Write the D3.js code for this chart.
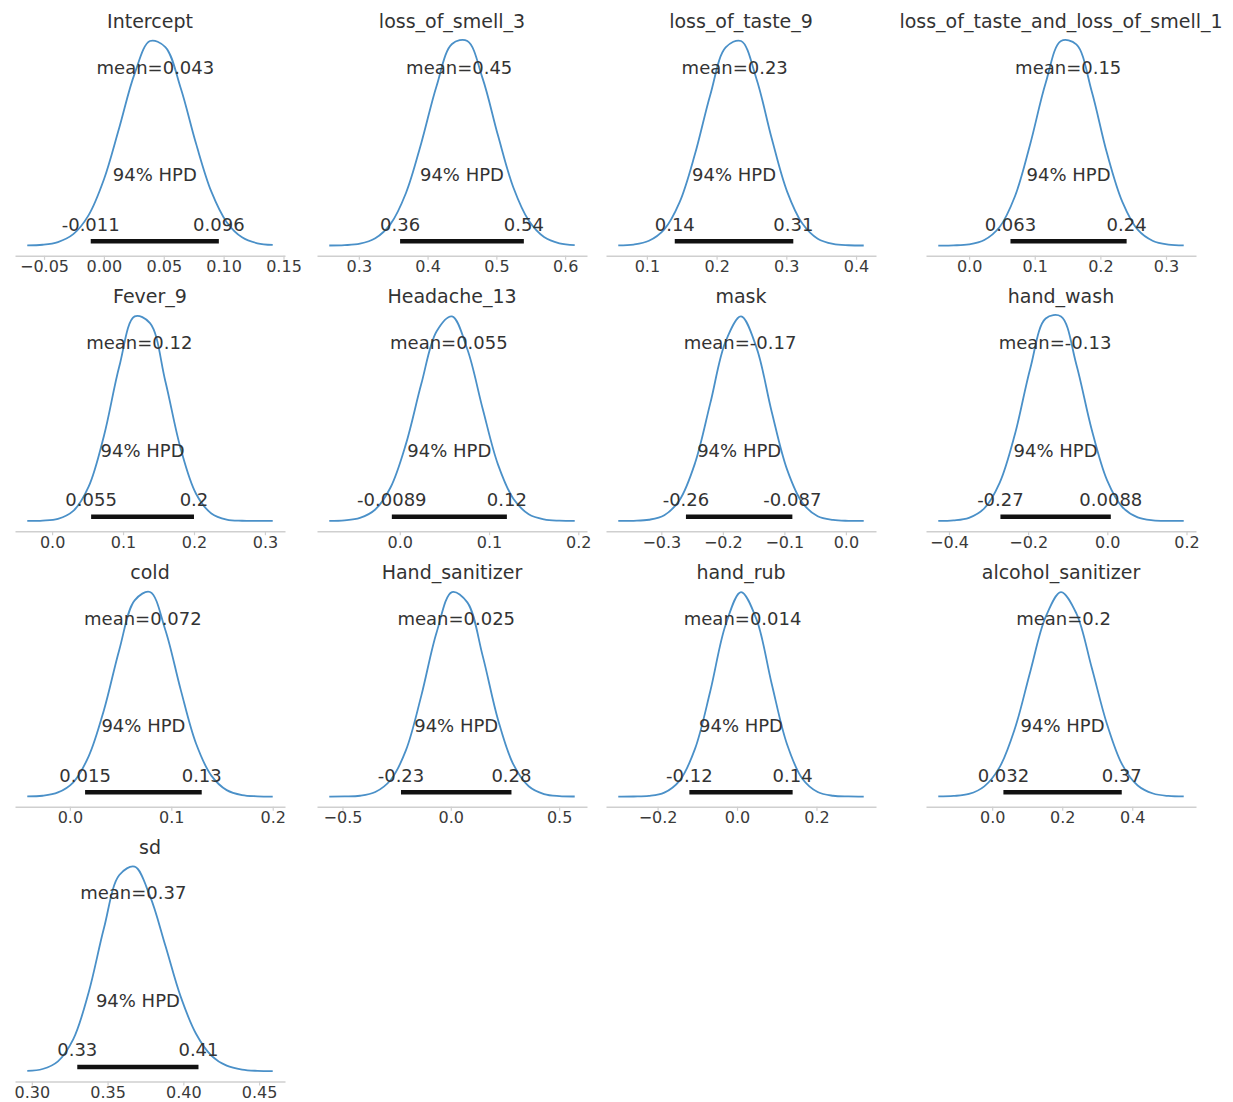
<!DOCTYPE html>
<html>
<head>
<meta charset="utf-8">
<script src="https://cdn.jsdelivr.net/npm/d3@7"></script>
<style>
  body { margin: 0; background: #fff; }
  svg { display: block; }
  text { font-family: "DejaVu Sans", "Liberation Sans", sans-serif; }
</style>
</head>
<body>
<svg id="chart" width="1233" height="1102"></svg>
<script>
// Posterior summaries per parameter
const names = ["Intercept", "loss_of_smell_3", "loss_of_taste_9", "loss_of_taste_and_loss_of_smell_1",
  "Fever_9", "Headache_13", "mask", "hand_wash",
  "cold", "Hand_sanitizer", "hand_rub", "alcohol_sanitizer",
  "sd"];
const means   = [0.043, 0.446, 0.226, 0.151, 0.123, 0.055, -0.172, -0.132, 0.072, 0.025, 0.014, 0.204, 0.367];
const hpdLow  = [-0.011, 0.36, 0.14, 0.063, 0.055, -0.0089, -0.26, -0.27, 0.015, -0.23, -0.12, 0.032, 0.33];
const hpdHigh = [0.096, 0.54, 0.31, 0.24, 0.2, 0.12, -0.087, 0.0088, 0.13, 0.28, 0.14, 0.37, 0.41];

// Sample range covered by each kernel density estimate
const kdeLow  = [-0.064, 0.257, 0.059, -0.047, -0.035, -0.079, -0.370, -0.427, -0.042, -0.561, -0.299, -0.154, 0.297];
const kdeHigh = [0.141, 0.614, 0.411, 0.327, 0.311, 0.196, 0.029, 0.193, 0.200, 0.572, 0.319, 0.547, 0.459];

// Relative density at 17 evenly spaced points across each range
const densities = [
  [0.001, 0.004, 0.017, 0.055, 0.147, 0.320, 0.570, 0.830, 0.987, 0.958, 0.760, 0.492, 0.260, 0.113, 0.040, 0.011, 0.003],
  [0.0003, 0.002, 0.009, 0.035, 0.104, 0.252, 0.492, 0.766, 0.966, 0.980, 0.800, 0.527, 0.278, 0.120, 0.041, 0.011, 0.0025],
  [0.001, 0.005, 0.023, 0.078, 0.209, 0.440, 0.726, 0.953, 0.984, 0.804, 0.516, 0.261, 0.106, 0.033, 0.008, 0.0016, 0.0003],
  [0.0002, 0.001, 0.006, 0.027, 0.089, 0.236, 0.487, 0.777, 0.978, 0.962, 0.738, 0.441, 0.209, 0.076, 0.022, 0.005, 0.001],
  [0.0002, 0.0016, 0.010, 0.048, 0.164, 0.407, 0.738, 0.976, 0.944, 0.667, 0.345, 0.130, 0.036, 0.007, 0.001, 0.0001, 0.0],
  [0.0005, 0.003, 0.015, 0.056, 0.164, 0.375, 0.667, 0.923, 0.995, 0.835, 0.546, 0.274, 0.108, 0.033, 0.008, 0.0015, 0.0002],
  [0.0001, 0.0009, 0.006, 0.028, 0.103, 0.282, 0.576, 0.878, 1.0, 0.850, 0.534, 0.252, 0.089, 0.023, 0.005, 0.0007, 0.0001],
  [0.0004, 0.003, 0.015, 0.060, 0.181, 0.413, 0.726, 0.962, 0.972, 0.744, 0.435, 0.194, 0.066, 0.017, 0.003, 0.0005, 0.0001],
  [0.0008, 0.004, 0.020, 0.069, 0.194, 0.418, 0.709, 0.947, 0.987, 0.804, 0.516, 0.256, 0.101, 0.031, 0.007, 0.0014, 0.0002],
  [0.0001, 0.0007, 0.004, 0.022, 0.080, 0.224, 0.487, 0.793, 0.987, 0.937, 0.679, 0.371, 0.155, 0.050, 0.012, 0.002, 0.0003],
  [0.0, 0.0004, 0.003, 0.019, 0.078, 0.233, 0.516, 0.840, 1.0, 0.869, 0.552, 0.256, 0.087, 0.022, 0.004, 0.0005, 0.0001],
  [0.0005, 0.003, 0.013, 0.050, 0.144, 0.334, 0.612, 0.878, 1.0, 0.896, 0.631, 0.354, 0.155, 0.054, 0.015, 0.003, 0.0005],
  [0.002, 0.011, 0.048, 0.155, 0.380, 0.691, 0.947, 0.987, 0.845, 0.607, 0.360, 0.181, 0.076, 0.027, 0.008, 0.002, 0.0004]
];

// Axis tick values per panel
const tickValues = [
  [-0.05, 0.0, 0.05, 0.10, 0.15],
  [0.3, 0.4, 0.5, 0.6],
  [0.1, 0.2, 0.3, 0.4],
  [0.0, 0.1, 0.2, 0.3],
  [0.0, 0.1, 0.2, 0.3],
  [0.0, 0.1, 0.2],
  [-0.3, -0.2, -0.1, 0.0],
  [-0.4, -0.2, 0.0, 0.2],
  [0.0, 0.1, 0.2],
  [-0.5, 0.0, 0.5],
  [-0.2, 0.0, 0.2],
  [0.0, 0.2, 0.4],
  [0.30, 0.35, 0.40, 0.45]
];

const intervalLabel = "94% HPD";

// Grid layout
const colX = [15, 317, 606, 926];
const rowBase = [255.8, 531.2, 806.8, 1081.5];
const panelW = 270, panelH = 225;

// two significant digits, plain hyphen for negatives
const sig2 = v => String(parseFloat(v.toPrecision(2)));

const svg = d3.select("#chart");

names.forEach((name, i) => {
  const col = i % 4, row = Math.floor(i / 4);
  const g = svg.append("g")
    .attr("transform", `translate(${colX[col]},${rowBase[row] - panelH})`);

  const lo = kdeLow[i], hi = kdeHigh[i];
  const pad = 0.05 * (hi - lo);
  const x = d3.scaleLinear().domain([lo - pad, hi + pad]).range([0, panelW]);

  const dens = densities[i];
  const dmax = d3.max(dens);
  const y = d3.scaleLinear().domain([-0.05 * dmax, 1.05 * dmax]).range([panelH, 0]);
  const plotHeight = 1.05 * dmax;

  const pts = dens.map((d, j) => [lo + j * (hi - lo) / (dens.length - 1), d]);

  // bottom axis
  const ticks = tickValues[i];
  const step = ticks[1] - ticks[0];
  const decimals = Math.max(0, -Math.floor(Math.log10(step) + 1e-9));
  const fmt = v => {
    const s = Math.abs(v).toFixed(decimals);
    return (v < -1e-12 ? "\u2212" : "") + s;
  };
  const axis = d3.axisBottom(x).tickValues(ticks).tickFormat(fmt)
    .tickSizeOuter(0).tickSizeInner(4).tickPadding(1);
  const ax = g.append("g").attr("transform", `translate(0,${panelH})`).call(axis);
  ax.select(".domain").attr("stroke", "#cfcfcf").attr("stroke-width", 1.5);
  ax.selectAll(".tick line").attr("stroke", "#cfcfcf").attr("stroke-width", 1.2);
  ax.selectAll(".tick text").attr("fill", "#3a3a3a").attr("font-size", 16)
    .attr("font-family", "DejaVu Sans, sans-serif");

  // density curve
  g.append("path")
    .datum(pts)
    .attr("fill", "none")
    .attr("stroke", "#4a90c8")
    .attr("stroke-width", 1.8)
    .attr("d", d3.line().x(d => x(d[0])).y(d => y(d[1])).curve(d3.curveCatmullRom.alpha(0.5)));

  // credible interval bar
  g.append("line")
    .attr("x1", x(hpdLow[i])).attr("x2", x(hpdHigh[i]))
    .attr("y1", y(0.02 * plotHeight)).attr("y2", y(0.02 * plotHeight))
    .attr("stroke", "#111").attr("stroke-width", 4.5).attr("stroke-linecap", "butt");

  const txt = (xv, yv, s) => g.append("text")
    .attr("x", x(xv)).attr("y", y(yv))
    .attr("text-anchor", "middle").attr("font-size", 18).attr("fill", "#333")
    .text(s);

  txt(hpdLow[i], 0.07 * plotHeight, sig2(hpdLow[i]));
  txt(hpdHigh[i], 0.07 * plotHeight, sig2(hpdHigh[i]));
  txt((hpdLow[i] + hpdHigh[i]) / 2, 0.3 * plotHeight, intervalLabel);
  txt(means[i], 0.8 * plotHeight, "mean=" + sig2(means[i]));

  // panel title
  g.append("text")
    .attr("x", panelW / 2).attr("y", panelH - 228)
    .attr("text-anchor", "middle").attr("font-size", 19).attr("fill", "#333")
    .text(name);
});
</script>
</body>
</html>
